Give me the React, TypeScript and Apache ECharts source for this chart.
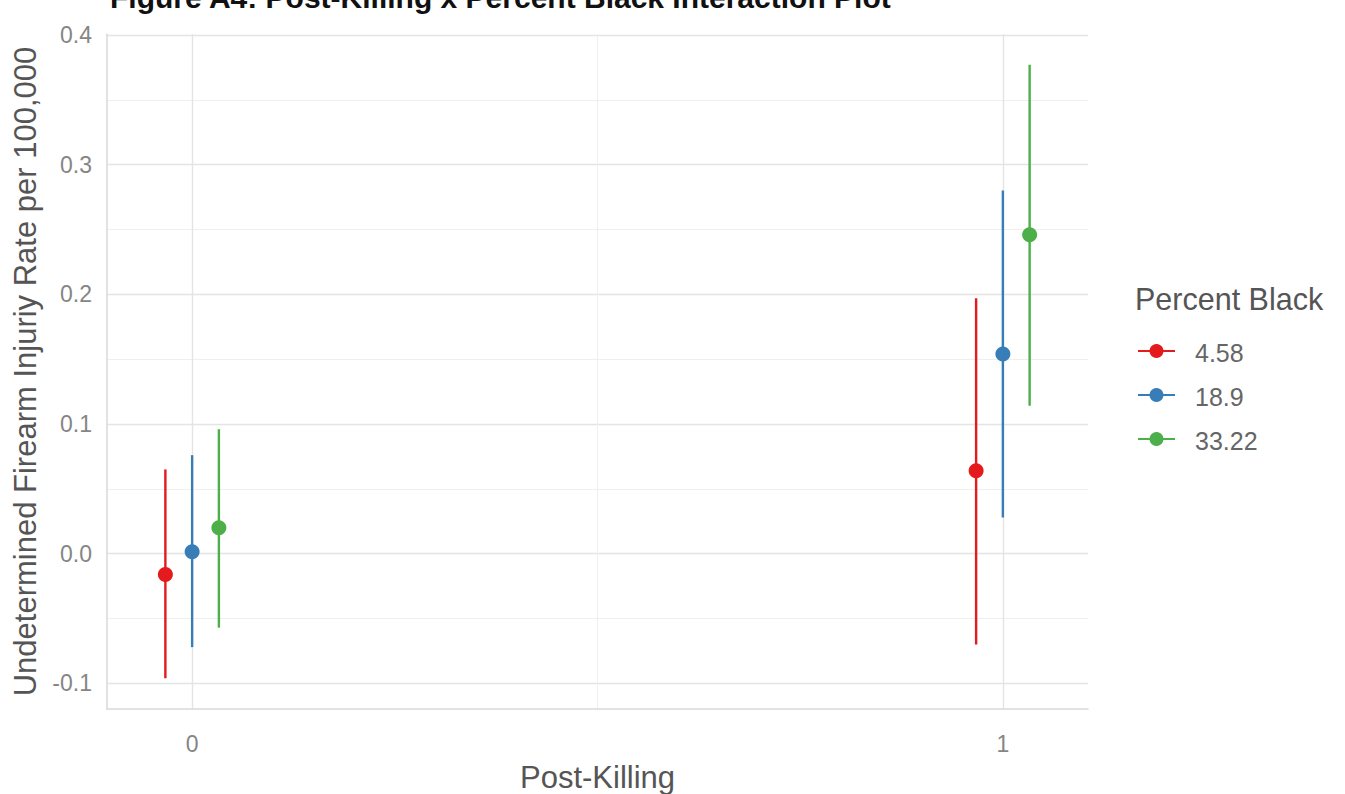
import React, { useEffect, useRef } from "react";
import * as echarts from "echarts";

// ---- data ----
const groups = [0, 1];
const seriesNames = ["4.58", "18.9", "33.22"];
const colors = ["#E41A1C", "#377EB8", "#4DAF4A"];
const est_4_58 = [-0.016, 0.064];
const low_4_58 = [-0.096, -0.07];
const up_4_58 = [0.065, 0.197];
const est_18_9 = [0.0015, 0.154];
const low_18_9 = [-0.072, 0.028];
const up_18_9 = [0.076, 0.28];
const est_33_22 = [0.02, 0.246];
const low_33_22 = [-0.057, 0.114];
const up_33_22 = [0.096, 0.377];
const yTicks = [-0.1, 0, 0.1, 0.2, 0.3, 0.4];
const yMinor = [-0.05, 0.05, 0.15, 0.25, 0.35];
const xTicks = [0, 1];
const xMinor = [0.5];

const estimates = [est_4_58, est_18_9, est_33_22];
const lowers = [low_4_58, low_18_9, low_33_22];
const uppers = [up_4_58, up_18_9, up_33_22];
const dodge = [-0.033, 0, 0.033];

export default function App() {
  const ref = useRef<HTMLDivElement>(null);
  useEffect(() => {
    document.body.style.margin = "0";
    const chart = echarts.init(ref.current!, null, { renderer: "svg" });
    const FONT = "Liberation Sans, Arial, sans-serif";

    const series: any[] = [];
    series.push({
      type: "line",
      data: [],
      z: 0,
      silent: true,
      markLine: {
        z: 0,
        silent: true,
        symbol: ["none", "none"],
        label: { show: false },
        animation: false,
        data: [
          ...yTicks.map((v) => ({ yAxis: v, lineStyle: { color: "#e4e4e4", width: 1.4, type: "solid" } })),
          ...yMinor.map((v) => ({ yAxis: v, lineStyle: { color: "#efefef", width: 1, type: "solid" } })),
          ...xTicks.map((v) => ({ xAxis: v, lineStyle: { color: "#e4e4e4", width: 1.4, type: "solid" } })),
          ...xMinor.map((v) => ({ xAxis: v, lineStyle: { color: "#efefef", width: 1, type: "solid" } })),
        ],
      },
    });

    seriesNames.forEach((name, si) => {
      const barData = groups.map((g, gi) => [g + dodge[si], lowers[si][gi], uppers[si][gi]]);
      series.push({
        type: "custom",
        name,
        z: 6,
        data: barData,
        encode: { x: 0, y: [1, 2] },
        renderItem: (params: any, api: any) => {
          const x = api.value(0);
          const p1 = api.coord([x, api.value(1)]);
          const p2 = api.coord([x, api.value(2)]);
          return {
            type: "rect",
            shape: { x: p1[0] - 1.2, y: p2[1], width: 2.4, height: p1[1] - p2[1] },
            style: { fill: colors[si] },
          };
        },
      });
      series.push({
        type: "scatter",
        name,
        z: 7,
        symbol: "circle",
        symbolSize: 15,
        itemStyle: { color: colors[si], opacity: 1 },
        data: groups.map((g, gi) => [g + dodge[si], estimates[si][gi]]),
      });
    });

    const legendX = 1137;
    const legendYs = [351, 395, 439];
    const legendGraphics: any[] = [
      {
        type: "text",
        left: legendX - 2,
        top: 283,
        style: { text: "Percent Black", fontSize: 30.5, fill: "#555555", fontFamily: FONT },
      },
    ];
    seriesNames.forEach((name, i) => {
      legendGraphics.push({
        type: "line",
        shape: { x1: legendX + 1, y1: legendYs[i], x2: legendX + 38, y2: legendYs[i] },
        style: { stroke: colors[i], lineWidth: 2 },
      });
      legendGraphics.push({
        type: "circle",
        shape: { cx: legendX + 19.5, cy: legendYs[i], r: 7 },
        style: { fill: colors[i] },
      });
      legendGraphics.push({
        type: "text",
        x: legendX + 58,
        y: legendYs[i] + 2,
        style: {
          text: name,
          fontSize: 25,
          fill: "#666666",
          fontFamily: FONT,
          verticalAlign: "middle",
        },
      });
    });

    chart.setOption({
      animation: false,
      backgroundColor: "#ffffff",
      grid: {
        left: 107,
        right: 257,
        top: 34,
        bottom: 85,
        containLabel: false,
        outerBoundsMode: "none",
      },
      xAxis: {
        type: "value",
        min: -0.105,
        max: 1.105,
        name: "Post-Killing",
        nameLocation: "middle",
        nameGap: 53,
        nameTextStyle: { fontSize: 31, color: "#555555", fontFamily: FONT },
        splitLine: { show: false },
        axisTick: { show: false },
        axisLine: { show: true, onZero: false, lineStyle: { color: "#d9d9d9", width: 1.5 } },
        axisLabel: {
          customValues: xTicks,
          formatter: (v: number) => String(Math.round(v)),
          fontSize: 23,
          color: "#858585",
          margin: 23,
          fontFamily: FONT,
        },
      },
      yAxis: {
        type: "value",
        min: -0.1197,
        max: 0.4007,
        name: "Undetermined Firearm Injuriy Rate per 100,000",
        nameLocation: "middle",
        nameGap: 63,
        nameTextStyle: { fontSize: 31, color: "#555555", fontFamily: FONT },
        splitLine: { show: false },
        axisTick: { show: false },
        axisLine: { show: true, onZero: false, lineStyle: { color: "#d9d9d9", width: 1.5 } },
        axisLabel: {
          customValues: yTicks,
          formatter: (v: number) => (Math.abs(v) < 1e-9 ? "0.0" : v.toFixed(1)),
          fontSize: 23,
          color: "#858585",
          margin: 15,
          fontFamily: FONT,
        },
      },
      graphic: [
        {
          type: "text",
          x: 110,
          y: -3,
          style: {
            text: "Figure A4: Post-Killing x Percent Black Interaction Plot",
            fontSize: 30,
            fontWeight: "bold",
            fill: "#111111",
            fontFamily: FONT,
            verticalAlign: "middle",
          },
        },
        ...legendGraphics,
      ],
      series,
    });
    return () => chart.dispose();
  }, []);
  return <div ref={ref} style={{ position: "fixed", left: 0, top: 0, width: 1345, height: 794 }} />;
}
